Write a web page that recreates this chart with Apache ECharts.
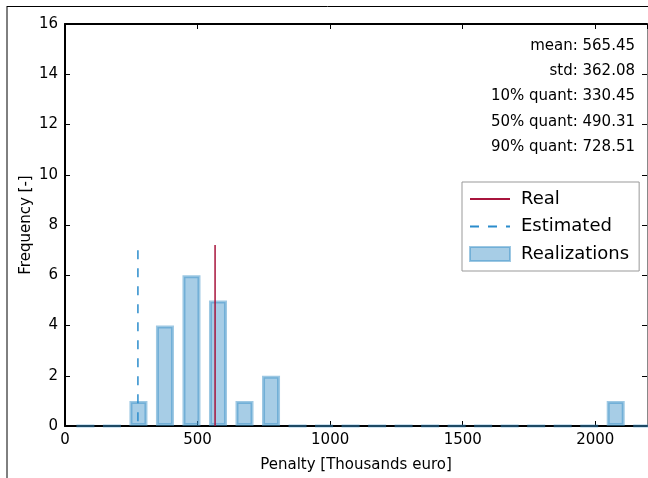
<!DOCTYPE html>
<html>
<head>
<meta charset="UTF-8">
<title>Penalty histogram</title>
<script type="text/javascript" src="https://cdn.jsdelivr.net/npm/echarts@6/dist/echarts.min.js"></script>
<style>
  html, body { margin: 0; padding: 0; background: #fff; }
</style>
</head>
<body>
	<div id="box" style="width: 648px; height: 478px;"></div>

	<script type="text/javascript">
		// histogram bins (centre of each bin, thousands euro) and counts
		var binCenters = [77, 177, 277, 377, 477, 577, 677, 777, 877, 977, 1077,
			1177, 1277, 1377, 1477, 1577, 1677, 1777, 1877, 1977, 2077, 2177];
		var counts = [0, 0, 1, 4, 6, 5, 1, 2, 0, 0, 0,
			0, 0, 0, 0, 0, 0, 0, 0, 0, 1, 0];

		// vertical markers
		var realValue = 566;
		var realTop = 7.2;
		var estimatedValue = 275;
		var estimatedTop = 7.0;

		// statistics shown top right
		var statLabels = ['mean', 'std', '10% quant', '50% quant', '90% quant'];
		var statValues = ['565.45', '362.08', '330.45', '490.31', '728.51'];

		var font = 'DejaVu Sans';
		var barData = [];
		for (var i = 0; i < binCenters.length; i++) {
			barData.push([binCenters[i], counts[i]]);
		}

		var statTexts = [];
		for (var j = 0; j < statLabels.length; j++) {
			statTexts.push({
				type: 'text',
				right: 13,
				top: 38.5 + j * 25.3,
				style: {
					text: statLabels[j] + ': ' + statValues[j],
					font: '15px "' + font + '"',
					fill: '#000',
					textAlign: 'right'
				}
			});
		}

		var myChart = echarts.init(document.getElementById('box'));
		myChart.setOption({
			animation: false,
			grid: { left: 65, top: 24, right: 1, bottom: 51 },
			textStyle: { fontFamily: font },
			legend: {
				orient: 'vertical',
				left: 462,
				top: 182,
				padding: [8, 10, 8, 7],
				itemGap: 9.5,
				itemWidth: 40,
				itemHeight: 14,
				borderColor: '#999',
				borderWidth: 1,
				borderRadius: 0,
				textStyle: { fontFamily: font, fontSize: 18, color: '#000', padding: [0, 0, 0, 6] },
				data: [
					{ name: 'Real', itemStyle: { opacity: 0 } },
					{ name: 'Estimated', itemStyle: { opacity: 0 } },
					{ name: 'Realizations', icon: 'rect' }
				]
			},
			xAxis: [{
				type: 'value',
				min: 0,
				max: 2195,
				interval: 500,
				name: 'Penalty [Thousands euro]',
				nameLocation: 'middle',
				nameGap: 32,
				nameMoveOverlap: false,
				nameTextStyle: { fontFamily: font, fontSize: 15, color: '#000' },
				axisLine: { onZero: false, lineStyle: { color: '#000', width: 2 } },
				axisTick: { inside: true, length: 5, lineStyle: { color: '#000' } },
				axisLabel: {
					fontFamily: font, fontSize: 15, color: '#000', margin: 7, showMaxLabel: false,
					formatter: function (v) { return String(v); }
				},
				splitLine: { show: false }
			}, {
				type: 'value',
				position: 'top',
				min: 0,
				max: 2195,
				interval: 500,
				axisLine: { onZero: false, lineStyle: { color: '#000', width: 2 } },
				axisTick: { inside: true, length: 5, lineStyle: { color: '#000' } },
				axisLabel: { show: false },
				splitLine: { show: false }
			}],
			yAxis: [{
				type: 'value',
				min: 0,
				max: 16,
				interval: 2,
				name: 'Frequency [-]',
				nameLocation: 'middle',
				nameGap: 31,
				nameMoveOverlap: false,
				nameTextStyle: { fontFamily: font, fontSize: 15, color: '#000' },
				axisLine: { show: true, onZero: false, lineStyle: { color: '#000', width: 2 } },
				axisTick: { show: true, inside: true, length: 5, lineStyle: { color: '#000' } },
				axisLabel: { fontFamily: font, fontSize: 15, color: '#000', margin: 7 },
				splitLine: { show: false }
			}, {
				type: 'value',
				position: 'right',
				min: 0,
				max: 16,
				interval: 2,
				axisLine: { show: true, onZero: false, lineStyle: { color: '#888', width: 1 } },
				axisTick: { show: true, inside: true, length: 5, lineStyle: { color: '#000' } },
				axisLabel: { show: false },
				splitLine: { show: false }
			}],
			graphic: [{
				type: 'line',
				shape: { x1: 7, y1: 6, x2: 7, y2: 478 },
				style: { stroke: '#000', lineWidth: 1 }
			}, {
				type: 'line',
				shape: { x1: 7, y1: 6.5, x2: 648, y2: 6.5 },
				style: { stroke: '#000', lineWidth: 1 }
			}].concat(statTexts),
			series: [{
				name: 'Realizations',
				type: 'bar',
				barWidth: 18,
				data: barData,
				itemStyle: {
					color: 'rgba(60,145,200,0.45)',
					borderColor: 'rgba(60,145,200,0.5)',
					borderWidth: 3
				},
				z: 2
			}, {
				name: 'Real',
				type: 'line',
				symbol: 'none',
				data: [[realValue, realTop], [realValue, 0]],
				lineStyle: { color: '#a8143c', width: 1.5 },
				itemStyle: { color: '#a8143c' },
				z: 3
			}, {
				name: 'Estimated',
				type: 'line',
				symbol: 'none',
				data: [[estimatedValue, estimatedTop], [estimatedValue, 0]],
				lineStyle: { color: '#2b8ccc', width: 1.5, type: [9, 9] },
				itemStyle: { color: '#2b8ccc' },
				z: 3
			}]
		});
	</script>

</body>
</html>
